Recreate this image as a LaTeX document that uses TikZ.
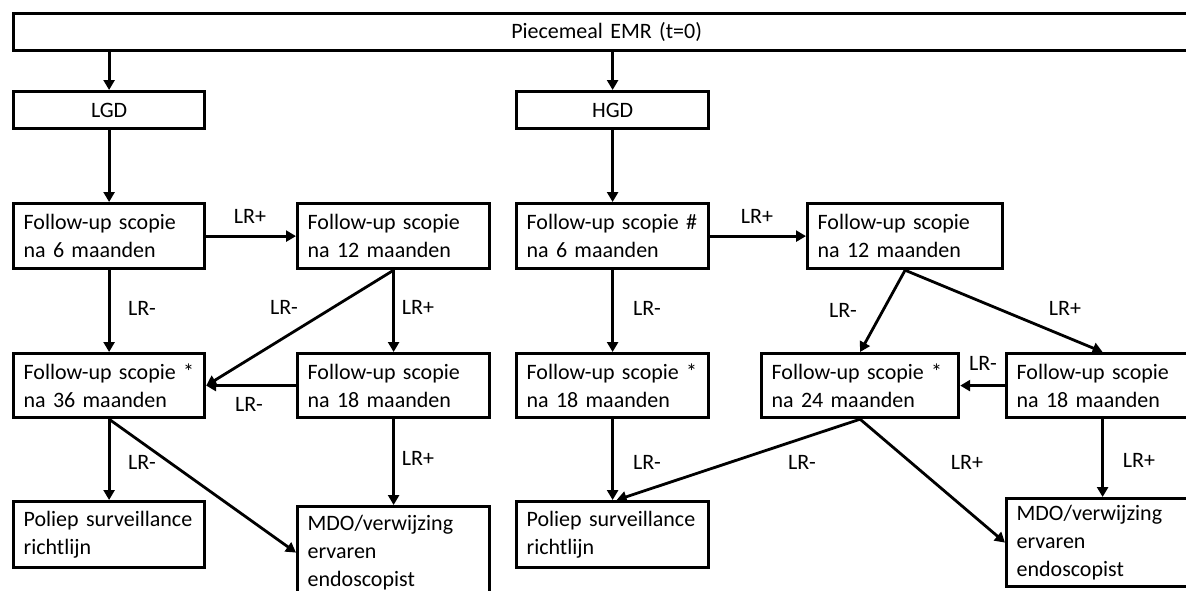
\documentclass[tikz,border=0pt]{standalone}
\usepackage{fontspec}
\setmainfont{Carlito}
\usetikzlibrary{arrows.meta}
\begin{document}
\begin{tikzpicture}[
    x=1pt,y=-1pt,
    font=\fontsize{22}{28}\selectfont,
    box/.style={draw=black,line width=3.2pt,anchor=north west,align=left,inner xsep=10pt,inner ysep=0pt,text width=172pt,minimum height=65pt},
    head/.style={box,align=center,minimum height=37pt},
    arr/.style={draw=black,line width=2.8pt,-{Triangle[length=10pt,width=11pt]}},
    lbl/.style={inner sep=0pt}
]
    \useasboundingbox (0,0) rectangle (1186,590);
    \clip (0,0) rectangle (1186,590);

    \node[head,text width=1166pt] (emr) at (12,12) {Piecemeal EMR (t=0)};
    \node[head,text width=171pt] (lgd) at (12,90) {LGD};
    \node[head] (hgd) at (515,90) {HGD};

    \node[box,text width=171pt] (l6) at (12,202) {Follow-up scopie\\na 6 maanden};
    \node[box] (l12) at (296,202) {Follow-up scopie\\na 12 maanden};
    \node[box] (h6) at (515,202) {Follow-up scopie \#\\na 6 maanden};
    \node[box,text width=175pt] (h12) at (806,202) {Follow-up scopie\\na 12 maanden};

    \node[box,text width=171pt,minimum height=64pt] (l36) at (12,352) {Follow-up scopie *\\na 36 maanden};
    \node[box,minimum height=64pt] (l18) at (296,352) {Follow-up scopie\\na 18 maanden};
    \node[box,minimum height=64pt] (h18a) at (515,352) {Follow-up scopie *\\na 18 maanden};
    \node[box,text width=177pt,minimum height=64pt] (h24) at (760,352) {Follow-up scopie *\\na 24 maanden};
    \node[box,minimum height=64pt] (h18b) at (1005,352) {Follow-up scopie\\na 18 maanden};

    \node[box,text width=171pt,minimum height=66pt] (lpol) at (12,500) {Poliep surveillance\\richtlijn};
    \node[box,minimum height=92pt] (lmdo) at (296,505) {MDO/verwijzing\\ervaren\\endoscopist};
    \node[box,minimum height=66pt] (hpol) at (515,500) {Poliep surveillance\\richtlijn};
    \node[box,minimum height=88pt] (hmdo) at (1005,497) {MDO/verwijzing\\ervaren\\endoscopist};

    \draw[arr] (emr.south -| lgd.north) -- (lgd.north);
    \draw[arr] (emr.south -| hgd.north) -- (hgd.north);
    \draw[arr] (lgd.south) -- (l6.north);
    \draw[arr] (hgd.south) -- (h6.north);

    \draw[arr] (l6.east) -- (l12.west);
    \draw[arr] (l6.south) -- (l36.north);
    \draw[arr] (l12.south) -- (l36.east);
    \draw[arr] (l12.south) -- (l18.north);
    \draw[arr] (l18.west) -- (l36.east);
    \draw[arr] (l36.south) -- (lpol.north);
    \draw[arr] (l36.south) -- (lmdo.west);
    \draw[arr] (l18.south) -- (lmdo.north);

    \draw[arr] (h6.east) -- (h12.west);
    \draw[arr] (h6.south) -- (h18a.north);
    \draw[arr] (h12.south) -- (h24.north);
    \draw[arr] (h12.south) -- (h18b.north);
    \draw[arr] (h18b.west) -- (h24.east);
    \draw[arr] (h18a.south) -- (hpol.north);
    \draw[arr] (h24.south) -- ([xshift=4pt]hpol.north);
    \draw[arr] (h24.south) -- (hmdo.west);
    \draw[arr] (h18b.south) -- (hmdo.north);

    \node[lbl] (t1) at (250,216) {LR+};
    \node[lbl] (t2) at (142,308) {LR-};
    \node[lbl] (t3) at (284,307) {LR-};
    \node[lbl] (t4) at (418,307) {LR+};
    \node[lbl] (t5) at (249,404) {LR-};
    \node[lbl] (t6) at (142,462) {LR-};
    \node[lbl] (t7) at (418,458) {LR+};
    \node[lbl] (t8) at (757,216) {LR+};
    \node[lbl] (t9) at (647,308) {LR-};
    \node[lbl] (t10) at (843,310) {LR-};
    \node[lbl] (t11) at (1065,308) {LR+};
    \node[lbl] (t12) at (983,363) {LR-};
    \node[lbl] (t13) at (647,462) {LR-};
    \node[lbl] (t14) at (802,462) {LR-};
    \node[lbl] (t15) at (967,462) {LR+};
    \node[lbl] (t16) at (1139,460) {LR+};
\end{tikzpicture}
\end{document}
